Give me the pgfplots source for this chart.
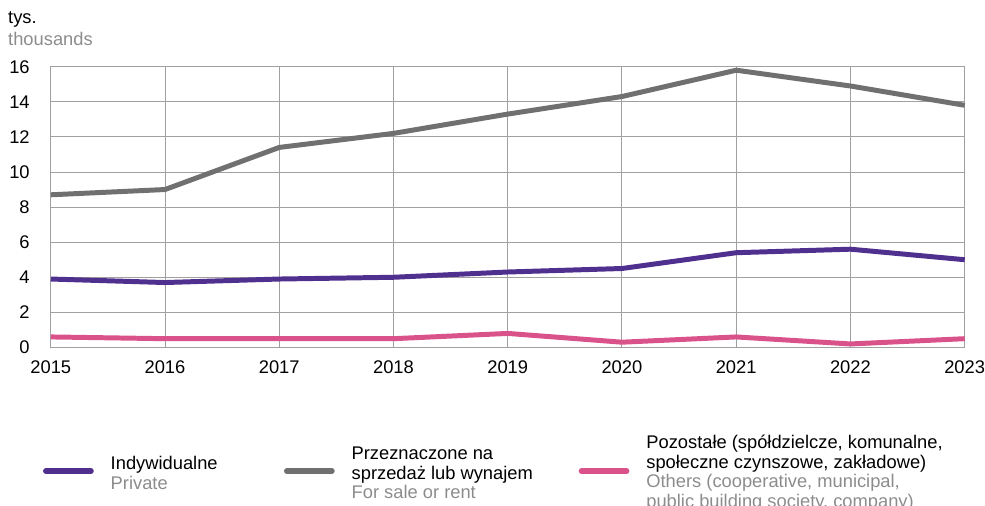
\documentclass[border=0pt]{standalone}
\usepackage{fontspec}
\setmainfont{Liberation Sans}
\usepackage{pgfplots}
\pgfplotsset{compat=1.18}

\definecolor{cPriv}{HTML}{50308E}
\definecolor{cSale}{HTML}{707070}
\definecolor{cOther}{HTML}{D9528A}
\definecolor{cGrid}{HTML}{A0A0A0}
\definecolor{cSub}{HTML}{8C8C8C}

\newcommand{\fs}{\fontsize{18.4}{19.6}\selectfont}
% every legend text in a box of the same height, text centred in it
\newcommand{\legtext}[2]{\parbox[c][80pt][c]{#1}{\fs #2}}

\begin{document}
\begin{tikzpicture}
\begin{axis}[
    at={(0,0)}, anchor=south west,
    scale only axis,
    width=918pt, height=282pt,
    xmin=2015, xmax=2023,
    ymin=0, ymax=16,
    xtick={2015,...,2023},
    ytick={0,2,...,16},
    /pgf/number format/1000 sep={},
    /pgf/number format/assume math mode=true,
    major tick length=0pt,
    grid=major,
    grid style={cGrid, line width=0.9pt},
    axis line style={cGrid, line width=0.9pt},
    tick label style={font=\fs, inner sep=0pt},
    yticklabel style={anchor=east, xshift=-21pt},
    xticklabel style={anchor=north, yshift=-13pt},
    clip=false,
    legend columns=3,
    legend style={at={(rel axis cs:-0.0087,-0.305)}, anchor=north west,
        draw=none, fill=none, inner sep=0pt, font=\fs,
        nodes={inner sep=0pt},
        /tikz/every odd column/.style={column sep=17pt},
        /tikz/every even column/.style={column sep=0pt}},
    legend image code/.code={\draw[#1, line width=6pt, line cap=round] (0pt,-15pt) -- (45pt,-15pt);},
]
\addplot[cPriv, line width=5pt, line join=round] coordinates {
    (2015,3.9) (2016,3.7) (2017,3.9) (2018,4.0) (2019,4.3)
    (2020,4.5) (2021,5.4) (2022,5.6) (2023,5.0)
};
\addlegendentry{\legtext{174pt}{Indywidualne\\\textcolor{cSub}{Private}}}
\addplot[cSale, line width=5pt, line join=round] coordinates {
    (2015,8.7) (2016,9.0) (2017,11.4) (2018,12.2) (2019,13.3)
    (2020,14.3) (2021,15.8) (2022,14.9) (2023,13.8)
};
\addlegendentry{\legtext{228pt}{Przeznaczone na\\sprzedaż lub wynajem\\\textcolor{cSub}{For sale or rent}}}
\addplot[cOther, line width=5pt, line join=round] coordinates {
    (2015,0.6) (2016,0.5) (2017,0.5) (2018,0.5) (2019,0.8)
    (2020,0.3) (2021,0.6) (2022,0.2) (2023,0.5)
};
\addlegendentry{\legtext{330pt}{Pozostałe (spółdzielcze, komunalne,\\społeczne czynszowe, zakładowe)\\\textcolor{cSub}{Others (cooperative, municipal,}\\\textcolor{cSub}{public building society, company)}}}
\node[anchor=north west, inner sep=0pt, font=\fontsize{18.4}{22}\selectfont, align=left]
    at (rel axis cs:-0.0468,1.195) {tys.\\\textcolor{cSub}{thousands}};
\end{axis}
\useasboundingbox (-51pt,-159pt) rectangle (934pt,349pt);
\end{tikzpicture}
\end{document}
